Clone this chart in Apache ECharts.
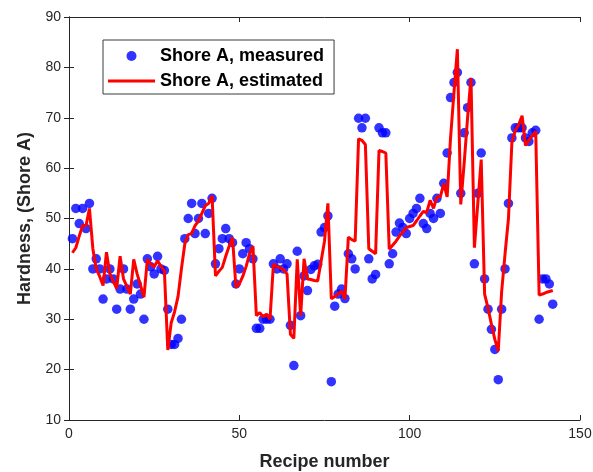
<!DOCTYPE html>
<html>
<head>
<meta charset="utf-8">
<script src="https://cdn.jsdelivr.net/npm/echarts@6/dist/echarts.min.js"></script>
<style>
  html, body { margin: 0; padding: 0; background: #fff; }
  #chart { width: 593px; height: 472px; }
</style>
</head>
<body>
<div id="chart"></div>
<script>
// values, one per recipe (recipe 1 .. 142)
var measured = [
  46, 52, 49, 52, 48, 53, 40, 42, 40, 34,
  38, 40, 38, 32, 36, 40, 36, 32, 34, 37,
  35, 30, 42, 40.4, 39, 42.5, 40, 39.7, 32, 25,
  25, 26.2, 30, 46, 50, 53, 47, 50, 53, 47,
  51, 54, 41, 44, 46, 48, 46, 45.2, 37, 40,
  43, 45.2, 44, 42, 28.2, 28.2, 30, 30, 30, 41,
  40, 42, 40, 41, 28.8, 20.8, 43.5, 30.7, 38.6, 35.7,
  39.9, 40.6, 40.9, 47.3, 48.2, 50.5, 17.6, 32.6, 35, 36,
  34.1, 43, 42, 40, 69.9, 68, 69.9, 42, 38, 38.9,
  68, 67, 67, 41, 43, 47.3, 49.1, 48.2, 47, 50,
  51, 52, 54, 49, 48, 51, 50, 54, 51, 57,
  63, 74, 77, 79, 55, 67, 72, 77, 41, 55,
  63, 38, 32, 28, 24, 18, 32, 40, 53, 66,
  68, 68, 68, 66, 65.3, 67, 67.5, 30, 38, 38,
  37, 33
];

var estimated = [
  43.2, 44.2, 46.5, 48.6, 48.6, 52, 44, 40, 38.5, 36.7,
  43.3, 39, 37.5, 36.1, 42.5, 38, 36.5, 35, 41.9, 39,
  36.7, 34.4, 41.9, 41, 40.4, 41.6, 40.5, 39.6, 23.9, 29.3,
  31.5, 34.5, 40, 45, 46.8, 47, 48.6, 49.5, 51, 52.5,
  53, 54.5, 38.6, 39.5, 40.3, 42.5, 44.5, 46.2, 36.3, 37,
  38.5, 40.5, 43, 44.5, 30.7, 31.3, 30.5, 31, 30, 40.9,
  40.5, 40.2, 39.8, 39, 27, 26.2, 41.9, 30.7, 42, 38,
  37.9, 37.7, 37.6, 41.5, 45.5, 53, 34.1, 34.5, 35, 35.6,
  34, 46.3, 45.8, 45.5, 65.8, 65.5, 64.7, 44, 43.5, 43,
  63.5, 63.3, 63, 43.9, 44.7, 45.5, 46.5, 47.3, 48.2, 48.4,
  48.6, 49.5, 50.5, 51.4, 51.2, 53.6, 52, 54.3, 54.3, 56.9,
  54.3, 66, 75, 83.6, 52.8, 61, 70, 77.9, 44.2, 53,
  61.7, 35, 32.2, 29, 26, 23.7, 35.5, 43, 50, 65,
  67.5, 68.6, 70.4, 64.5, 65.5, 66.5, 67.3, 34.8, 35, 35.3,
  35.5, 35.7
];

var xTicks = [0, 50, 100, 150];
var yTicks = [10, 20, 30, 40, 50, 60, 70, 80, 90];

function pairs(values) {
  return values.map(function (v, i) { return [i + 1, v]; });
}

var font = 'Liberation Sans, Arial, Helvetica, sans-serif';
var axisColor = '#262626';

var chart = echarts.init(document.getElementById('chart'), null, { renderer: 'canvas' });

// top and right axes only close the box (ticks inside, no labels)
var boxAxis = {
  axisLine: { show: true, lineStyle: { color: axisColor, width: 1 } },
  axisTick: { show: true, inside: true, length: 5, lineStyle: { color: axisColor } },
  axisLabel: { show: false },
  splitLine: { show: false }
};

chart.setOption({
  animation: false,
  backgroundColor: '#fff',
  grid: { left: 69, right: 13, top: 17, bottom: 52, containLabel: false, outerBoundsMode: 'none' },
  legend: {
    orient: 'vertical',
    left: 103,
    top: 40,
    padding: [5, 10, 2, 5],
    itemGap: 3,
    itemWidth: 47,
    itemHeight: 10,
    backgroundColor: '#fff',
    borderColor: '#3a3a3a',
    borderWidth: 1,
    textStyle: { fontFamily: font, fontSize: 18, fontWeight: 'bold', color: '#000', lineHeight: 22 },
    data: [
      { name: 'Shore A, measured', icon: 'circle' },
      { name: 'Shore A, estimated', icon: 'path://M0,0 H47 V3 H0 Z' }
    ]
  },
  xAxis: [
    {
      type: 'value',
      min: xTicks[0],
      max: xTicks[xTicks.length - 1],
      interval: 50,
      name: 'Recipe number',
      nameLocation: 'middle',
      nameGap: 33,
      nameTextStyle: { fontFamily: font, fontSize: 18, fontWeight: 'bold', color: axisColor },
      axisLine: { show: true, lineStyle: { color: axisColor, width: 1 } },
      axisTick: { show: true, inside: true, length: 5, lineStyle: { color: axisColor } },
      axisLabel: { fontFamily: font, fontSize: 14, color: axisColor, margin: 7 },
      splitLine: { show: false }
    },
    Object.assign({ type: 'value', position: 'top', min: 0, max: 150, interval: 50 }, boxAxis)
  ],
  yAxis: [
    {
      type: 'value',
      min: yTicks[0],
      max: yTicks[yTicks.length - 1],
      interval: 10,
      name: 'Hardness, (Shore A)',
      nameLocation: 'middle',
      nameGap: 35,
      nameTextStyle: { fontFamily: font, fontSize: 18, fontWeight: 'bold', color: axisColor },
      axisLine: { show: true, lineStyle: { color: axisColor, width: 1 } },
      axisTick: { show: true, inside: true, length: 5, lineStyle: { color: axisColor } },
      axisLabel: { fontFamily: font, fontSize: 14, color: axisColor, margin: 8 },
      splitLine: { show: false }
    },
    Object.assign({ type: 'value', position: 'right', min: 10, max: 90, interval: 10 }, boxAxis)
  ],
  series: [
    {
      name: 'Shore A, measured',
      type: 'scatter',
      symbol: 'circle',
      symbolSize: 9.5,
      itemStyle: { color: '#0000ff' },
      data: pairs(measured),
      z: 2
    },
    {
      name: 'Shore A, estimated',
      type: 'line',
      symbol: 'none',
      showSymbol: false,
      lineStyle: { color: '#ff0000', width: 3 },
      itemStyle: { color: '#ff0000' },
      data: pairs(estimated),
      z: 3
    }
  ]
});
</script>
</body>
</html>
